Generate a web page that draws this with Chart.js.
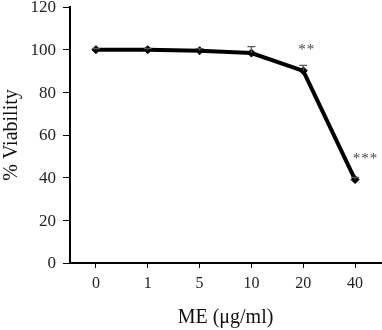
<!DOCTYPE html>
<html>
<head>
<meta charset="utf-8">
<script src="https://cdn.jsdelivr.net/npm/chart.js@4/dist/chart.umd.min.js"></script>
<style>
  html, body { margin: 0; padding: 0; background: #fff; }
  #wrap { width: 382px; height: 330px; }
</style>
</head>
<body>
<div id="wrap"><canvas id="c" width="382" height="330"></canvas></div>
<script>
// Cell viability after ME treatment
const doses = ['0', '1', '5', '10', '20', '40'];
const viability = [100, 100, 99.5, 98.4, 90.1, 39.1];
const errorUp = [0.5, 0.6, 1.0, 3.0, 2.5, 1.0];
const significance = ['', '', '', '', '**', '***'];

const serif = "'Liberation Serif', 'Times New Roman', serif";

// Error bars (upper whisker + cap) and significance stars
const annotations = {
  id: 'annotations',
  afterDatasetsDraw(chart) {
    const ctx = chart.ctx;
    const xs = chart.scales.x, ys = chart.scales.y;
    ctx.save();
    ctx.strokeStyle = '#555';
    ctx.lineWidth = 1.2;
    viability.forEach((v, i) => {
      const x = xs.getPixelForValue(i);
      const yTop = ys.getPixelForValue(v + errorUp[i]);
      const yMid = ys.getPixelForValue(v);
      ctx.beginPath();
      ctx.moveTo(x, yMid);
      ctx.lineTo(x, yTop);
      ctx.moveTo(x - 4, yTop);
      ctx.lineTo(x + 4, yTop);
      ctx.stroke();
    });
    ctx.fillStyle = '#444';
    ctx.font = '15px ' + serif;
    ctx.textAlign = 'center';
    ctx.textBaseline = 'middle';
    significance.forEach((s, i) => {
      if (!s) return;
      const x = xs.getPixelForValue(i);
      const y = ys.getPixelForValue(viability[i]);
      const cx = i === viability.length - 1 ? x + 10 : x + 3;
      const step = 8.5;
      const start = cx - (s.length - 1) * step / 2;
      for (let k = 0; k < s.length; k++) {
        ctx.fillText('*', start + k * step, y - 21);
      }
    });
    ctx.restore();
  }
};

new Chart(document.getElementById('c'), {
  type: 'line',
  data: {
    labels: doses,
    datasets: [{
      data: viability,
      borderColor: '#000',
      backgroundColor: '#000',
      borderWidth: 4,
      pointStyle: 'rectRot',
      pointRadius: 4,
      pointBorderWidth: 1,
      pointBackgroundColor: '#000',
      pointBorderColor: '#000',
      tension: 0
    }]
  },
  options: {
    responsive: false,
    animation: false,
    layout: { autoPadding: false, padding: { top: 0, right: 1, left: 0, bottom: 0 } },
    plugins: { legend: { display: false }, tooltip: { enabled: false } },
    scales: {
      x: {
        offset: true,
        grid: { drawOnChartArea: false, drawTicks: true, tickLength: 5, color: '#000', tickColor: '#000', offset: false },
        border: { color: '#000', width: 2 },
        ticks: { color: '#222', font: { family: serif, size: 16 }, padding: 6 },
        title: { display: true, text: 'ME (μg/ml)', color: '#111', font: { family: serif, size: 20 }, padding: { top: 8, bottom: 0 } },
        afterFit(scale) { scale.height = 67; }
      },
      y: {
        min: 0, max: 120,
        ticks: { stepSize: 20, color: '#222', font: { family: serif, size: 17 }, padding: 7, labelOffset: 1 },
        grid: { drawOnChartArea: false, drawTicks: true, tickLength: 7, color: '#000', tickColor: '#000' },
        border: { color: '#000', width: 2 },
        title: { display: true, text: '% Viability', color: '#111', font: { family: serif, size: 20 }, padding: { top: 0, bottom: 10 } },
        afterFit(scale) { scale.width = 70; scale.paddingTop = 7; scale.paddingBottom = 6; }
      }
    }
  },
  plugins: [annotations]
});
</script>
</body>
</html>
